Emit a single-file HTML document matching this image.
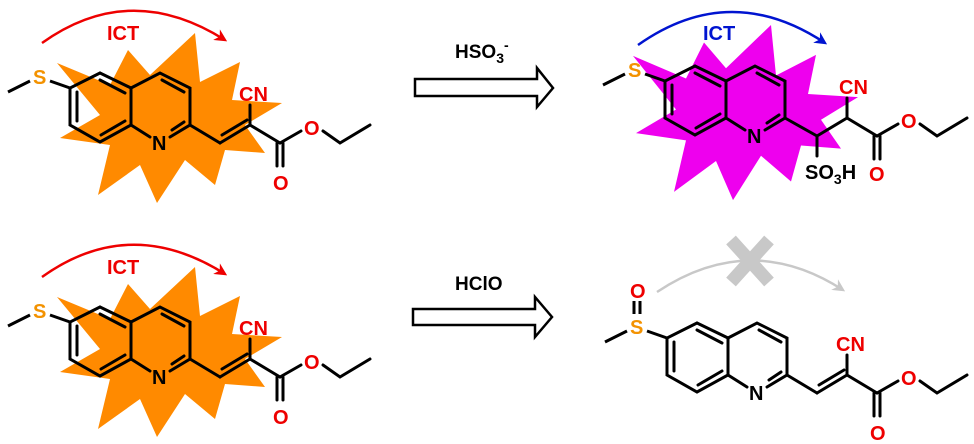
<!DOCTYPE html>
<html><head><meta charset="utf-8"><style>
html,body{margin:0;padding:0;background:#fff;}
svg{display:block;}
text{font-family:"Liberation Sans",Arial,sans-serif;font-weight:bold;}
</style></head><body>
<svg width="974" height="444" viewBox="0 0 974 444" xmlns="http://www.w3.org/2000/svg">
<defs>
<marker id="ar" viewBox="0 0 10 10" refX="8" refY="5" markerWidth="5" markerHeight="5" orient="auto"><path d="M0,0 L10,5 L0,10 L3,5z" fill="context-stroke"/></marker>
<polygon id="star" points="128,50 150,75 195,33 200,82 240,62 232,100 282,103 245,125 265,153 225,150 215,185 185,160 157,203 140,165 98,195 110,145 60,138 100,115 57,63 110,85"/>
<g id="core" stroke="#000" stroke-width="3" fill="none" stroke-linecap="round">
<polyline points="100,73 70,88 70,125 100,142 131,125 131,88 100,73"/>
<line x1="100" y1="80" x2="125" y2="93"/>
<line x1="77" y1="92" x2="77" y2="121"/>
<line x1="101" y1="135" x2="125" y2="121"/>
<polyline points="131,88 160,73 190,88 190,125 170,137"/>
<line x1="150" y1="137" x2="131" y2="125"/>
<line x1="162" y1="80" x2="184" y2="92"/>
<line x1="172" y1="130" x2="184" y2="122"/>
</g>
<g id="tail" stroke="#000" stroke-width="3" fill="none" stroke-linecap="round">
<line x1="190" y1="125" x2="220" y2="143"/>
<line x1="220" y1="143" x2="250" y2="125"/>
<line x1="222" y1="135" x2="247" y2="120"/>
<line x1="250" y1="125" x2="250" y2="105"/>
<line x1="250" y1="125" x2="280" y2="143"/>
<line x1="277" y1="143" x2="277" y2="166"/>
<line x1="283" y1="143" x2="283" y2="166"/>
<line x1="280" y1="143" x2="301" y2="131"/>
<polyline points="323,131 340,143 370,125"/>
</g>
<g id="tailtext" fill="#e00" font-size="20">
<text x="239" y="101">CN</text>
<text x="273" y="190">O</text>
<text x="304" y="135">O</text>
</g>
</defs>

<!-- top left -->
<use href="#star" fill="#ff8a00"/>
<path d="M42,43 Q130,-20 225,40" stroke="#e00" stroke-width="2.5" fill="none" marker-end="url(#ar)"/>
<text x="107" y="40" fill="#e00" font-size="20">ICT</text>
<use href="#core"/>
<line x1="8" y1="92" x2="30" y2="81" stroke="#000" stroke-width="3"/>
<line x1="50" y1="81" x2="70" y2="88" stroke="#000" stroke-width="3"/>
<text x="33" y="84" fill="#f39200" font-size="20">S</text>
<text x="152" y="150" fill="#000" font-size="20">N</text>
<use href="#tail"/><use href="#tailtext"/>

<!-- top arrow -->
<text x="455" y="58" font-size="19">HSO<tspan font-size="14" dy="5">3</tspan><tspan font-size="14" dy="-13">-</tspan></text>
<polygon points="415,79 537,79 537,68 553,88 537,107 537,96 415,96" fill="#fff" stroke="#000" stroke-width="2.5"/>

<!-- top right -->
<g transform="translate(576,-9) scale(1,1.03)">
<use href="#star" fill="#ee00ee"/>
</g>
<path d="M638,45 Q730,-20 825,43" stroke="#0014d0" stroke-width="2.5" fill="none" marker-end="url(#ar)"/>
<text x="703" y="40" fill="#0014d0" font-size="20">ICT</text>
<g transform="translate(595,-7)">
<use href="#core"/>
<line x1="8" y1="92" x2="30" y2="81" stroke="#000" stroke-width="3"/>
<line x1="50" y1="81" x2="70" y2="88" stroke="#000" stroke-width="3"/>
<text x="33" y="84" fill="#f39200" font-size="20">S</text>
<text x="152" y="150" fill="#000" font-size="20">N</text>
<g stroke="#000" stroke-width="3" fill="none" stroke-linecap="round">
<line x1="190" y1="125" x2="222" y2="143"/>
<line x1="222" y1="143" x2="222" y2="163"/>
<line x1="222" y1="143" x2="252" y2="125"/>
<line x1="252" y1="125" x2="252" y2="105"/>
<line x1="252" y1="125" x2="282" y2="143"/>
<line x1="279" y1="143" x2="279" y2="166"/>
<line x1="285" y1="143" x2="285" y2="166"/>
<line x1="282" y1="143" x2="303" y2="131"/>
<polyline points="325,131 342,143 372,125"/>
</g>
<text x="244" y="101" fill="#e00" font-size="20">CN</text>
<text x="306" y="135" fill="#e00" font-size="20">O</text>
<text x="210" y="186" fill="#000" font-size="20">SO<tspan font-size="14" dy="5">3</tspan><tspan dy="-5">H</tspan></text>
<text x="274" y="188" fill="#e00" font-size="20">O</text>
</g>

<!-- bottom left -->
<g transform="translate(0,234)">
<use href="#star" fill="#ff8a00"/>
<path d="M42,43 Q130,-20 225,40" stroke="#e00" stroke-width="2.5" fill="none" marker-end="url(#ar)"/>
<text x="107" y="40" fill="#e00" font-size="20">ICT</text>
<use href="#core"/>
<line x1="8" y1="92" x2="30" y2="81" stroke="#000" stroke-width="3"/>
<line x1="50" y1="81" x2="70" y2="88" stroke="#000" stroke-width="3"/>
<text x="33" y="84" fill="#f39200" font-size="20">S</text>
<text x="152" y="150" fill="#000" font-size="20">N</text>
<use href="#tail"/><use href="#tailtext"/>
</g>

<!-- bottom arrow -->
<text x="455" y="290" font-size="19">HClO</text>
<polygon points="413,309 535,309 535,297 552,317 535,337 535,325 413,325" fill="#fff" stroke="#000" stroke-width="2.5"/>

<!-- bottom right -->
<path d="M657,292 Q750,230 843,290" stroke="#c8c8c8" stroke-width="2.5" fill="none" marker-end="url(#ar)"/>
<g stroke="#c8c8c8" stroke-width="13">
<line x1="731" y1="240" x2="769" y2="282"/>
<line x1="769" y1="240" x2="731" y2="282"/>
</g>
<g transform="translate(597,250)">
<use href="#core"/>
<line x1="8" y1="92" x2="30" y2="81" stroke="#000" stroke-width="3"/>
<line x1="50" y1="81" x2="70" y2="88" stroke="#000" stroke-width="3"/>
<text x="33" y="84" fill="#f39200" font-size="20">S</text>
<line x1="37" y1="51" x2="37" y2="64" stroke="#000" stroke-width="3"/>
<line x1="43" y1="51" x2="43" y2="64" stroke="#000" stroke-width="3"/>
<text x="33" y="48" fill="#e00" font-size="20">O</text>
<text x="152" y="150" fill="#000" font-size="20">N</text>
<use href="#tail"/><use href="#tailtext"/>
</g>
</svg>
</body></html>
